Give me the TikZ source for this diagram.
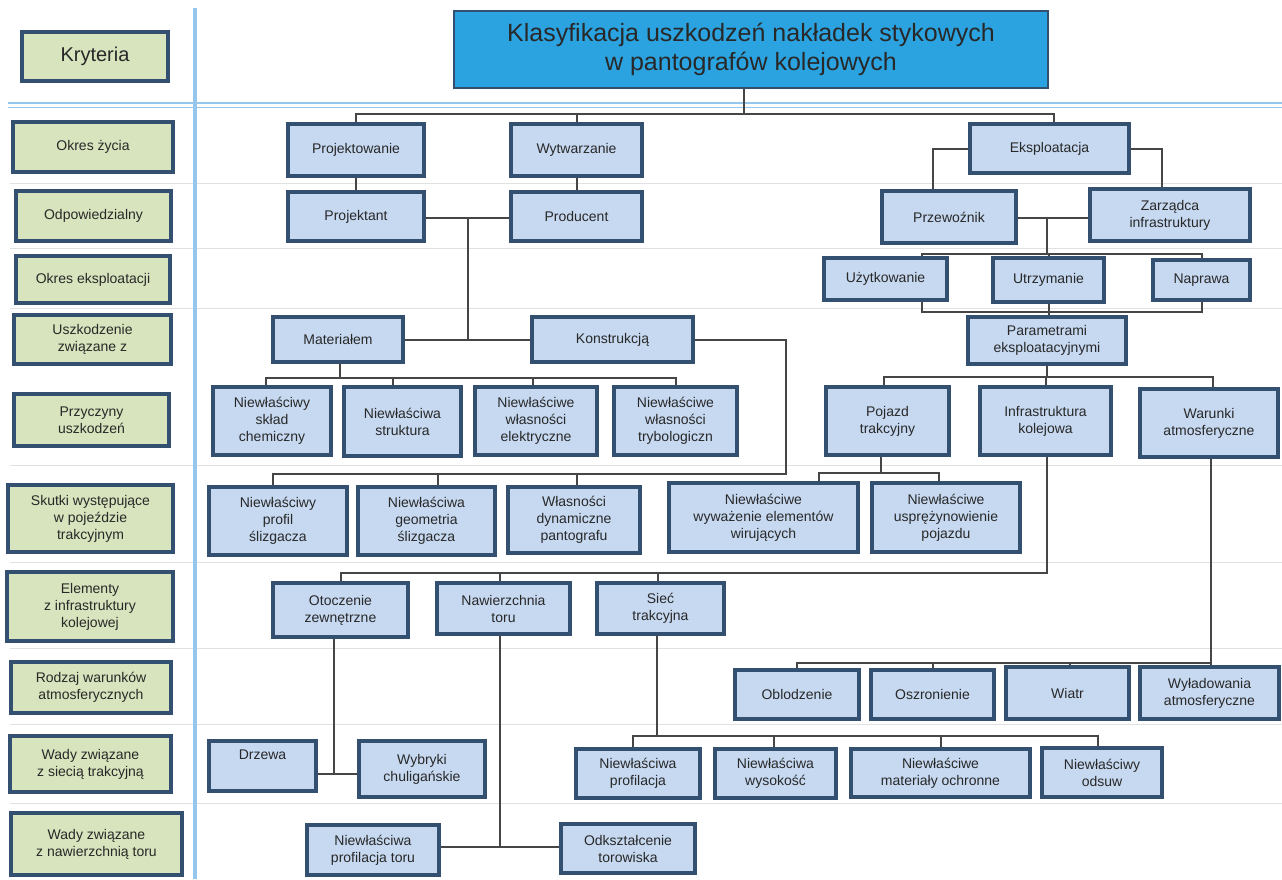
\documentclass[tikz,border=0pt]{standalone}
\usepackage{fontspec}
\setmainfont{Liberation Sans}
\definecolor{critgreen}{RGB}{215,228,189}
\definecolor{clsblue}{RGB}{198,217,241}
\definecolor{titleblue}{RGB}{43,163,224}
\definecolor{boxedge}{RGB}{52,80,112}
\definecolor{linkgrey}{RGB}{70,70,70}
\definecolor{txtgrey}{RGB}{40,40,40}
\definecolor{sepgrey}{RGB}{225,225,225}
\definecolor{rulblue}{RGB}{150,198,236}
\newcommand\boxfont{\fontsize{14}{17}\selectfont\color{txtgrey}}
\tikzset{
  crit/.style={draw=boxedge, fill=critgreen, line width=3.2pt, align=center, inner sep=0pt, font=\boxfont},
  cls/.style={draw=boxedge, fill=clsblue, line width=3.2pt, align=center, inner sep=0pt, font=\boxfont},
  wh/.style 2 args={minimum width=#1, minimum height=#2},
  link/.style={draw=linkgrey, line width=2pt},
  sepline/.style={draw=sepgrey, line width=1pt},
}
\begin{document}
\begin{tikzpicture}[x=1pt,y=-1pt]
    \useasboundingbox (0,0) rectangle (1282,879);

    % Row separators
    \foreach \y in {183,248,308,465,562,648,724,803}
        \draw[sepline] (10,\y) -- (1282,\y);

    % Frame lines
    \draw[rulblue, line width=4pt] (195,8) -- (195,879);
    \draw[rulblue, line width=1.6pt] (8,103) -- (1282,103);
    \draw[rulblue, line width=1.6pt] (8,107.5) -- (1282,107.5);

    % Criteria column
    \node[crit, wh={146}{49}, font=\fontsize{20}{22}\selectfont\color{txtgrey}] (kryt) at (95,56.5) {Kryteria};
    \node[crit, wh={160}{50}] (okres) at (93,147) {Okres życia};
    \node[crit, wh={155}{50}] (odp) at (93.5,216) {Odpowiedzialny};
    \node[crit, wh={154}{47}] (okreks) at (93,279.5) {Okres eksploatacji};
    \node[crit, wh={157}{49}] (uszk) at (92.5,339.5) {Uszkodzenie\\związane z};
    \node[crit, wh={155}{52}] (przycz) at (91.5,420) {Przyczyny\\uszkodzeń};
    \node[crit, wh={165}{67}] (skutki) at (90.5,518.5) {Skutki występujące\\w pojeździe\\trakcyjnym};
    \node[crit, wh={166}{69}] (elem) at (90,606.5) {Elementy\\z infrastruktury\\kolejowej};
    \node[crit, wh={160}{51}] (rodzaj) at (91,687.5) {Rodzaj warunków\\atmosferycznych};
    \node[crit, wh={161}{56}] (wadysiec) at (90.5,764) {Wady związane\\z siecią trakcyjną};
    \node[crit, wh={171}{62}] (wadynaw) at (96.5,844) {Wady związane\\z nawierzchnią toru};

    % Title
    \node[draw=boxedge, fill=titleblue, line width=2.4pt, wh={594}{77}, align=center,
          font=\fontsize{25}{29}\selectfont\color{txtgrey}] (title) at (751,49.5)
          {Klasyfikacja uszkodzeń nakładek stykowych\\w pantografów kolejowych};

    % Life cycle and responsibility
    \node[cls, wh={136}{52}] (proj) at (356,150) {Projektowanie};
    \node[cls, wh={131}{52}] (wytw) at (576.5,150) {Wytwarzanie};
    \node[cls, wh={159}{49}] (eksp) at (1049.5,148.5) {Eksploatacja};
    \node[cls, wh={136}{49}] (projtnt) at (356,216.5) {Projektant};
    \node[cls, wh={131}{49}] (prod) at (576.5,216.5) {Producent};
    \node[cls, wh={134}{52}] (przew) at (949,217) {Przewoźnik};
    \node[cls, wh={160}{52}] (zarz) at (1170,215) {Zarządca\\infrastruktury};
    \node[cls, wh={123}{42}] (uzyt) at (885.5,279) {Użytkowanie};
    \node[cls, wh={111}{44}] (utrz) at (1048.5,280) {Utrzymanie};
    \node[cls, wh={97}{40}] (napr) at (1201.5,280) {Naprawa};

    % Damage related to
    \node[cls, wh={130}{45}] (mat) at (338,339.5) {Materiałem};
    \node[cls, wh={161}{45}] (konst) at (612.5,339.5) {Konstrukcją};
    \node[cls, wh={158}{47}] (param) at (1047,340.5) {Parametrami\\eksploatacyjnymi};

    % Causes
    \node[cls, wh={118}{68}] (sklad) at (272,421) {Niewłaściwy\\skład\\chemiczny};
    \node[cls, wh={117}{69}] (strukt) at (402.5,421.5) {Niewłaściwa\\struktura};
    \node[cls, wh={122}{68}] (elektr) at (536,421) {Niewłaściwe\\własności\\elektryczne};
    \node[cls, wh={123}{68}] (trybo) at (675.5,421) {Niewłaściwe\\własności\\trybologiczn};
    \node[cls, wh={123}{68}] (pojazd) at (887.5,421) {Pojazd\\trakcyjny};
    \node[cls, wh={131}{68}] (infra) at (1045.5,421) {Infrastruktura\\kolejowa};
    \node[cls, wh={138}{68}] (warunki) at (1209,423) {Warunki\\atmosferyczne};

    % Effects in the traction vehicle
    \node[cls, wh={138}{68}] (profil) at (278,521) {Niewłaściwy\\profil\\ślizgacza};
    \node[cls, wh={137}{68}] (geom) at (426.5,521) {Niewłaściwa\\geometria\\ślizgacza};
    \node[cls, wh={132}{66}] (dyn) at (574,520) {Własności\\dynamiczne\\pantografu};
    \node[cls, wh={189}{69}] (wyw) at (763.5,517.5) {Niewłaściwe\\wyważenie elementów\\wirujących};
    \node[cls, wh={148}{69}] (uspr) at (946,517.5) {Niewłaściwe\\usprężynowienie\\pojazdu};

    % Infrastructure elements
    \node[cls, wh={135}{54}] (otocz) at (340.5,610) {Otoczenie\\zewnętrzne};
    \node[cls, wh={133}{51}] (nawierz) at (503.5,608.5) {Nawierzchnia\\toru};
    \node[cls, wh={127}{51}] (siec) at (660.5,608.5) {Sieć\\trakcyjna};

    % Weather
    \node[cls, wh={124}{49}] (oblod) at (797,694.5) {Oblodzenie};
    \node[cls, wh={123}{49}] (oszr) at (932.5,694.5) {Oszronienie};
    \node[cls, wh={123}{52}] (wiatr) at (1067.5,693) {Wiatr};
    \node[cls, wh={139}{52}] (wylad) at (1209.5,693) {Wyładowania\\atmosferyczne};

    % Overhead line defects
    \node[cls, wh={107}{50}] (drzewa) at (262.5,766) {Drzewa\\\strut};
    \node[cls, wh={126}{56}] (wybryki) at (422,769) {Wybryki\\chuligańskie};
    \node[cls, wh={124}{49}] (nprof) at (638,773.5) {Niewłaściwa\\profilacja};
    \node[cls, wh={121}{49}] (nwys) at (775.5,773.5) {Niewłaściwa\\wysokość};
    \node[cls, wh={179}{48}] (nmat) at (940.5,773) {Niewłaściwe\\materiały ochronne};
    \node[cls, wh={120}{49}] (nods) at (1102,772.5) {Niewłaściwy\\odsuw};

    % Track defects
    \node[cls, wh={132}{50}] (nproft) at (373,850) {Niewłaściwa\\profilacja toru};
    \node[cls, wh={134}{49}] (odksz) at (628,848.5) {Odkształcenie\\torowiska};

    % Connectors
    \coordinate (t1) at (744,114);
    \draw[link] (title.south -| t1) -- (t1);
    \draw[link] (proj.north) |- (t1) -| ([xshift=4]eksp.north);
    \draw[link] (wytw.north) -- (wytw.north |- t1);
    \draw[link] (proj) -- (projtnt);
    \draw[link] (wytw) -- (prod);
    \draw[link] (eksp.west) -| ([xshift=-16]przew.north);
    \draw[link] (eksp.east) -| ([xshift=-8]zarz.north);

    \coordinate (jA) at (468,218);
    \coordinate (jB) at (468,339.5);
    \draw[link] (projtnt.east |- jA) -- (prod.west |- jA);
    \draw[link] (jA) -- (jB);
    \draw[link] (mat) -- (konst);

    \coordinate (e1) at (1047,218);
    \coordinate (e2) at (1047,254);
    \coordinate (e3) at (1047,312);
    \draw[link] (przew.east |- e1) -- (zarz.west |- e1);
    \draw[link] (e1) -- (e2);
    \draw[link] ([xshift=36]uzyt.north) |- (e2) -| (napr.north);
    \draw[link] (utrz.north) -- (utrz.north |- e2);
    \draw[link] ([xshift=36]uzyt.south) |- (e3) -| (napr.south);
    \draw[link] (utrz.south) -- (utrz.south |- param.north);

    \coordinate (p1) at (1047,377);
    \draw[link] (param.south) -- (p1);
    \draw[link] ([xshift=-4]pojazd.north) |- (p1) -| ([xshift=4]warunki.north);
    \draw[link] (infra.north) -- (infra.north |- p1);

    \coordinate (m1) at (340,378);
    \draw[link] (mat.south -| m1) -- (m1);
    \draw[link] ([xshift=-6]sklad.north) |- (m1) -| (trybo.north);
    \draw[link] ([xshift=-10]strukt.north) -- ([xshift=-10]strukt.north |- m1);
    \draw[link] ([xshift=-3]elektr.north) -- ([xshift=-3]elektr.north |- m1);

    \coordinate (k1) at (786,474);
    \draw[link] (konst.east) -| (k1) -| ([xshift=-5]profil.north);
    \draw[link] ([xshift=11]geom.north) -- ([xshift=11]geom.north |- k1);
    \draw[link] ([xshift=3]dyn.north) -- ([xshift=3]dyn.north |- k1);

    \coordinate (q1) at (881,473);
    \draw[link] (pojazd.south -| q1) -- (q1);
    \draw[link] ([xshift=55]wyw.north) |- (q1) -| ([xshift=-7]uspr.north);

    \coordinate (r1) at (1047,573);
    \draw[link] (infra.south -| r1) -- (r1) -| (otocz.north);
    \draw[link] ([xshift=-4]nawierz.north) -- ([xshift=-4]nawierz.north |- r1);
    \draw[link] ([xshift=-3]siec.north) -- ([xshift=-3]siec.north |- r1);

    \coordinate (w1) at (1211,663);
    \draw[link] (warunki.south -| w1) -- (w1) -| (oblod.north);
    \draw[link] (oszr.north) -- (oszr.north |- w1);
    \draw[link] ([xshift=2]wiatr.north) -- ([xshift=2]wiatr.north |- w1);
    \draw[link] (wylad.north -| w1) -- (w1);

    \coordinate (o1) at (334,774);
    \draw[link] (otocz.south -| o1) -- (o1);
    \draw[link] (drzewa.east |- o1) -- (wybryki.west |- o1);

    \coordinate (s1) at (657,736);
    \draw[link] (siec.south -| s1) -- (s1);
    \draw[link] ([xshift=-5]nprof.north) |- (s1) -| ([xshift=-4]nods.north);
    \draw[link] ([xshift=-2]nwys.north) -- ([xshift=-2]nwys.north |- s1);
    \draw[link] (nmat.north) -- (nmat.north |- s1);

    \coordinate (n1) at (500,847);
    \draw[link] (nawierz.south -| n1) -- (n1);
    \draw[link] (nproft.east |- n1) -- (odksz.west |- n1);
\end{tikzpicture}
\end{document}
